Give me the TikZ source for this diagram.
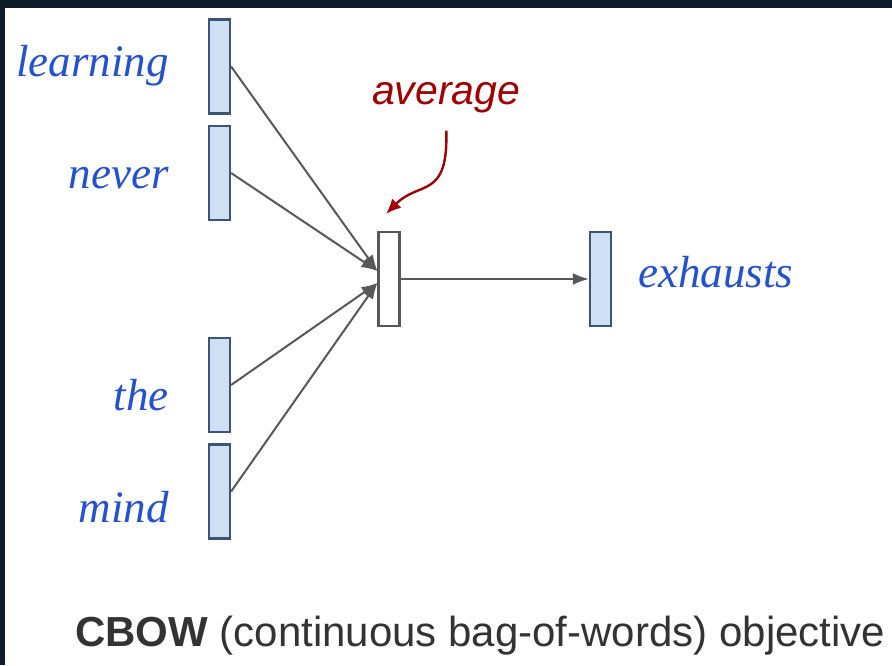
\documentclass[tikz,border=0pt]{standalone}
\usepackage{fontspec}
\setmainfont{Liberation Serif}
\setsansfont{Liberation Sans}
\usetikzlibrary{arrows.meta}
\definecolor{bgdark}{HTML}{0E1C2A}
\definecolor{wordblue}{HTML}{2452CC}
\definecolor{boxfill}{HTML}{CFE0F5}
\definecolor{boxline}{HTML}{3A5578}
\definecolor{linegray}{HTML}{585858}
\definecolor{avgred}{HTML}{A00000}
\definecolor{captiongray}{HTML}{333333}
\begin{document}
\begin{tikzpicture}[x=1pt,y=-1pt,
  vecbox/.style={draw=boxline, fill=boxfill, line width=2.2pt, minimum width=21pt, minimum height=94pt, inner sep=0pt},
  avgbox/.style={vecbox, draw=linegray, fill=white},
  word/.style={text=wordblue, font=\rmfamily\itshape\fontsize{45}{50}\selectfont, inner sep=0pt},
  conn/.style={draw=linegray, line width=2pt, -{Latex[length=16pt,width=12pt]}},
  redarrow/.style={draw=avgred, line width=2.4pt, -{Latex[length=15pt,width=13pt]}},
]
\fill[bgdark] (0,0) rectangle (892,665);
\fill[white] (5,8) rectangle (892,665);
\useasboundingbox (0,0) rectangle (892,665);

% vector boxes
\node[vecbox] (b1) at (219.5,66.5) {};
\node[vecbox] (b2) at (219.5,173) {};
\node[vecbox] (b3) at (219.5,385) {};
\node[vecbox] (b4) at (219.5,491.5) {};
\node[avgbox] (avg) at (389,279) {};
\node[vecbox] (ex) at (600.5,279) {};

% words
\node[word, anchor=base east] (w1) at (169,76) {learning};
\node[word, anchor=base east] (w2) at (169,188) {never};
\node[word, anchor=base east] (w3) at (169,410) {the};
\node[word, anchor=base east] (w4) at (169,522) {mind};
\node[word, anchor=base west] (w5) at (638,287) {exhausts};

% connectors
\draw[conn] (b1.east) -- ([yshift=8pt]avg.west);
\draw[conn] (b2.east) -- ([yshift=8pt]avg.west);
\draw[conn] (b3.east) -- ([yshift=-4pt]avg.west);
\draw[conn] (b4.east) -- ([yshift=-4pt]avg.west);
\draw[conn] (avg.east) -- (ex.west);

% average label and arrow
\node[anchor=base west, text=avgred, font=\sffamily\itshape\fontsize{41}{48}\selectfont, inner sep=0pt] (avglabel) at (372,104) {average};
\draw[redarrow] ([yshift=-18pt]avglabel.south) .. controls +(2,69) and +(34,-34) .. ([xshift=-3pt,yshift=17pt]avg.north);

% caption
\node[anchor=base west, text=captiongray, font=\sffamily\fontsize{42}{48}\selectfont, inner sep=0pt] (cap) at (75,646) {\textbf{CBOW} (continuous bag-of-words) objective};
\end{tikzpicture}
\end{document}
